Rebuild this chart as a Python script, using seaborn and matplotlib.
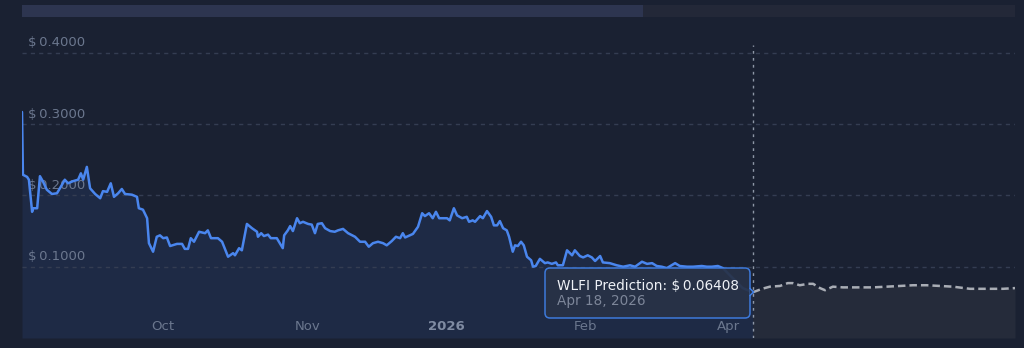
import numpy as np
import pandas as pd
import matplotlib
matplotlib.use("Agg")
import matplotlib.pyplot as plt
import matplotlib.transforms as mtransforms
from matplotlib.patches import FancyBboxPatch, Polygon, Rectangle
import seaborn as sns

# ---------------- data ----------------
hist_day = [0.0, 0.2, 1.1, 1.5, 2.2, 2.4, 3.3, 3.9, 4.6, 5.4, 6.5, 7.6, 8.7, 9.3, 10.0, 11.1,
            12.2, 12.8, 13.3, 14.1, 14.8, 15.9, 17.0, 17.6, 18.5, 19.3, 20.0, 20.9, 21.7, 22.4,
            23.9, 25.0, 25.4, 26.3, 27.2, 27.6, 28.5, 29.3, 30.0, 30.7, 31.5, 32.2, 33.7, 34.8,
            35.4, 36.1, 36.7, 37.4, 38.5, 39.8, 40.4, 41.1, 42.6, 43.5, 44.8, 45.9, 46.3, 47.2,
            47.8, 48.9, 50.0, 51.1, 51.3, 52.0, 52.6, 53.5, 54.1, 55.4, 56.7, 57.0, 57.8, 58.3,
            58.9, 59.8, 60.4, 61.1, 62.2, 63.0, 63.7, 64.3, 65.2, 65.9, 67.0, 68.0, 68.7, 69.8,
            70.9, 72.4, 73.5, 74.6, 75.4, 76.3, 77.4, 78.5, 79.3, 80.4, 81.3, 82.2, 82.8, 83.3,
            85.0, 86.1, 87.0, 87.6, 88.5, 89.3, 90.0, 90.7, 92.4, 93.0, 93.9, 94.6, 95.7, 96.7,
            97.2, 98.0, 98.5, 99.6, 100.2, 101.1, 102.0, 102.6, 103.3, 103.9, 104.6, 105.4,
            105.9, 106.7, 107.2, 107.8, 108.5, 109.1, 109.8, 110.7, 111.1, 111.7, 112.6, 113.7,
            114.3, 115.2, 116.1, 116.5, 117.6, 118.5, 119.6, 120.2, 121.3, 122.0, 123.0, 123.9,
            124.6, 125.7, 126.3, 127.8, 129.3, 130.7, 132.2, 133.3, 134.8, 135.9, 137.0, 138.0,
            139.1, 140.2, 142.0, 143.0, 144.6, 145.9, 147.8, 148.9, 150.0, 151.3, 152.4, 153.9,
            156.7, 158.9]
hist_price = [0.317, 0.229, 0.226, 0.222, 0.177, 0.182, 0.182, 0.227, 0.219, 0.208, 0.202,
              0.203, 0.215, 0.222, 0.217, 0.220, 0.222, 0.231, 0.222, 0.240, 0.210, 0.202,
              0.196, 0.206, 0.205, 0.217, 0.198, 0.203, 0.209, 0.202, 0.201, 0.198, 0.182,
              0.180, 0.168, 0.133, 0.121, 0.142, 0.144, 0.140, 0.141, 0.129, 0.132, 0.132,
              0.125, 0.125, 0.140, 0.135, 0.149, 0.147, 0.151, 0.140, 0.140, 0.135, 0.114,
              0.119, 0.116, 0.126, 0.123, 0.160, 0.154, 0.149, 0.142, 0.147, 0.143, 0.145,
              0.140, 0.140, 0.126, 0.144, 0.151, 0.157, 0.150, 0.168, 0.161, 0.163, 0.160,
              0.159, 0.147, 0.160, 0.161, 0.154, 0.150, 0.149, 0.151, 0.153, 0.147, 0.142,
              0.135, 0.135, 0.128, 0.133, 0.135, 0.133, 0.130, 0.136, 0.142, 0.140, 0.147,
              0.141, 0.146, 0.156, 0.175, 0.171, 0.175, 0.168, 0.177, 0.168, 0.168, 0.165,
              0.182, 0.172, 0.168, 0.170, 0.163, 0.165, 0.163, 0.171, 0.168, 0.178, 0.170,
              0.158, 0.158, 0.164, 0.154, 0.151, 0.142, 0.121, 0.130, 0.129, 0.135, 0.130,
              0.114, 0.109, 0.100, 0.101, 0.111, 0.105, 0.106, 0.104, 0.106, 0.102, 0.102,
              0.123, 0.116, 0.123, 0.115, 0.113, 0.116, 0.113, 0.108, 0.115, 0.106, 0.105,
              0.102, 0.100, 0.102, 0.100, 0.107, 0.104, 0.105, 0.101, 0.100, 0.098, 0.105,
              0.101, 0.100, 0.100, 0.101, 0.100, 0.100, 0.101, 0.098, 0.088, 0.070, 0.0641]

fc_day = [158.9, 160.9, 162.6, 164.8, 166.5, 167.6, 169.1, 170.9, 172.0, 173.5, 174.6, 176.3,
          178.5, 181.5, 185.0, 188.0, 190.9, 193.7, 196.7, 199.6, 202.4, 206.1, 209.8, 213.3,
          215.9]
fc_price = [0.0641, 0.069, 0.072, 0.073, 0.077, 0.077, 0.074, 0.076, 0.076, 0.070, 0.067,
            0.072, 0.071, 0.071, 0.071, 0.072, 0.073, 0.074, 0.074, 0.073, 0.072, 0.069,
            0.069, 0.069, 0.070]

y_ticks = [0.1, 0.2, 0.3, 0.4]
y_tick_labels = ["$\u20090.1000", "$\u20090.2000", "$\u20090.3000", "$\u20090.4000"]
x_tick_days = [30.7, 62.2, 92.2, 122.6, 153.7]
x_tick_labels = ["Oct", "Nov", "2026", "Feb", "Apr"]
today_day = 158.9
tooltip_title = "WLFI Prediction: $\u20090.06408"
tooltip_date = "Apr 18, 2026"

# ---------------- style ----------------
sns.set_theme(style="dark")
plt.rcParams['font.family'] = ['DejaVu Sans']

BG = "#1a2132"
HIST_FILL = "#1e2a45"
FC_FILL = "#252b3a"
LINE = "#4a86ee"
GRID = "#343d52"
LABEL = "#6b778e"

fig = plt.figure(figsize=(10.24, 3.48), dpi=100, facecolor=BG)
ax = fig.add_axes([22 / 1024, 10 / 348, 993 / 1024, 308 / 348])
ax.set_facecolor(BG)
ax.set_axisbelow(False)

hist = pd.DataFrame({"day": hist_day, "price": hist_price})
fc = pd.DataFrame({"day": fc_day, "price": fc_price})

ax.fill_between(hist["day"], hist["price"], 0, color=HIST_FILL, lw=0, zorder=1)
ax.fill_between(fc["day"], fc["price"], 0, color=FC_FILL, lw=0, zorder=1)

for v in y_ticks:
    ax.axhline(v, color=GRID, lw=1, ls=(0, (3, 3)), zorder=1.5)

ylab_trans = mtransforms.offset_copy(ax.get_yaxis_transform(), fig=fig, y=10, units='dots')
for v, lab in zip(y_ticks, y_tick_labels):
    ax.text(0.006, v, lab, transform=ylab_trans, ha='left', va='center',
            fontsize=9.5, color=LABEL, zorder=2)

sns.lineplot(data=hist, x="day", y="price", color=LINE, lw=1.8, ax=ax, zorder=3)
sns.lineplot(data=fc, x="day", y="price", color="#a9adb5", lw=1.8, ax=ax, zorder=3,
             linestyle=(0, (3, 1.6)))

ax.vlines(today_day, 0, 0.411, color="#8e97a7", lw=1, linestyles=[(0, (2, 3))], zorder=4)

ax.set_xlim(0, 215.9)
ax.set_ylim(0, 0.432)
ax.set_xticks(x_tick_days)
ax.set_xticklabels(x_tick_labels)
ax.tick_params(axis='x', length=0, pad=-13, labelsize=9.5, colors=LABEL)
ax.xaxis.set_zorder(2)
for t in ax.get_xticklabels():
    if t.get_text() == "2026":
        t.set_fontweight('bold')
        t.set_color("#7f8ba2")
ax.set_yticks([])
ax.set_xlabel("")
ax.set_ylabel("")
ax.grid(False)
for s in ax.spines.values():
    s.set_visible(False)

# tooltip
inch = fig.dpi_scale_trans
box = FancyBboxPatch((5.45, 0.30), 2.05, 0.50, boxstyle="round,pad=0,rounding_size=0.05",
                     transform=inch, facecolor="#283247", edgecolor="#3f7fe6", lw=1.1,
                     alpha=0.93, zorder=5, clip_on=False)
ax.add_patch(box)
notch = Polygon([(7.495, 0.60), (7.535, 0.56), (7.495, 0.52)], closed=False, transform=inch,
                facecolor="#283247", edgecolor="#3f7fe6", lw=1.1, zorder=5.1, clip_on=False)
ax.add_patch(notch)
ax.text(5.57, 0.625, tooltip_title, transform=inch, ha='left', va='center', fontsize=9.8,
        color="#eef1f6", zorder=6)
ax.text(5.57, 0.465, tooltip_date, transform=inch, ha='left', va='center', fontsize=9.8,
        color="#7d8699", zorder=6)

# navigator bar on top
fig.patches.append(Rectangle((0.22, 3.31), 9.93, 0.12, transform=inch, facecolor="#232838",
                             edgecolor="none", figure=fig))
fig.patches.append(Rectangle((0.22, 3.31), 6.21, 0.12, transform=inch, facecolor="#2d3550",
                             edgecolor="none", figure=fig))

fig.savefig("out.png", dpi=100, facecolor=BG)
